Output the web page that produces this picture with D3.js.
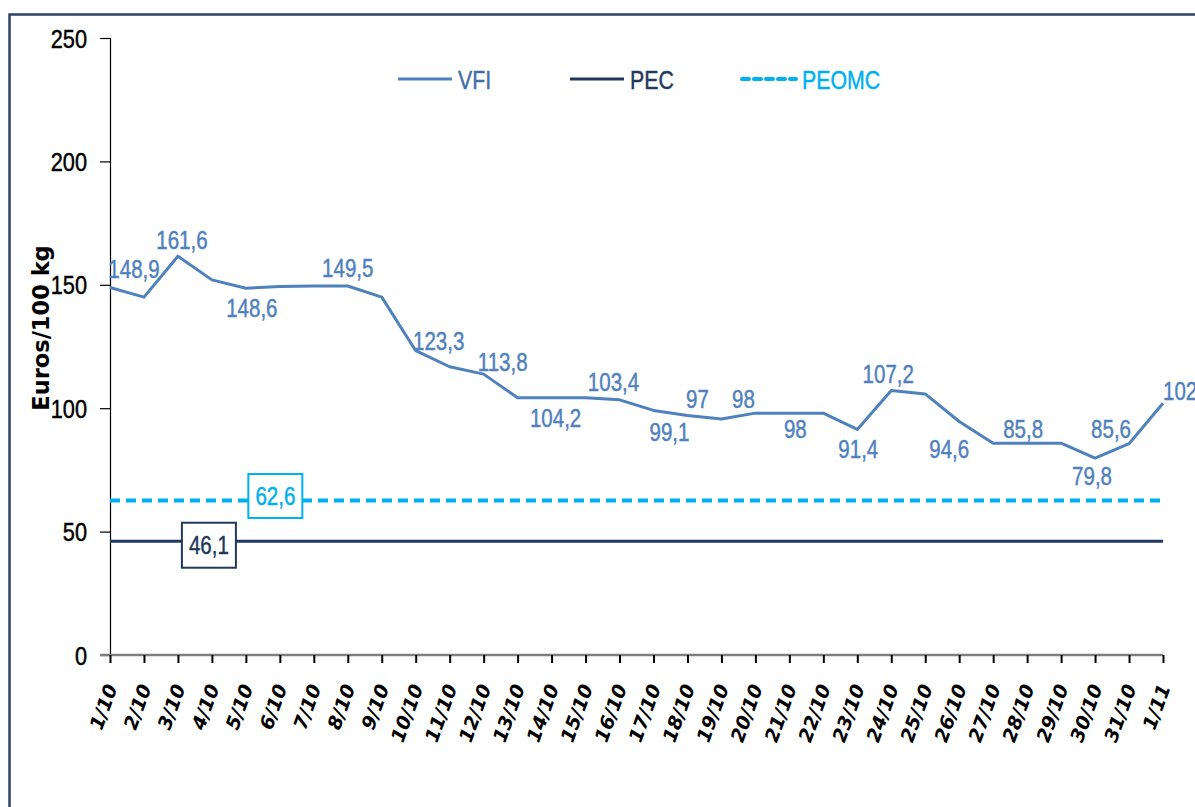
<!DOCTYPE html>
<html><head><meta charset="utf-8">
<script src="https://cdn.jsdelivr.net/npm/d3@7"></script>
<style>
html,body{margin:0;padding:0;background:#fff;}
svg{display:block;}
</style></head>
<body>
<svg id="c" width="1195" height="807"></svg>
<script>
const dates = ["1/10","2/10","3/10","4/10","5/10","6/10","7/10","8/10","9/10","10/10","11/10","12/10","13/10","14/10","15/10","16/10","17/10","18/10","19/10","20/10","21/10","22/10","23/10","24/10","25/10","26/10","27/10","28/10","29/10","30/10","31/10","1/11"];
const vfi = [148.9,145,161.6,152,148.6,149.3,149.5,149.5,145,123.3,116.8,113.8,104.2,104.2,104.2,103.4,99.1,97,95.6,98,98,98,91.4,107.2,105.8,94.6,85.8,85.8,85.8,79.8,85.6,102];
const pec = 46.1;
const peomc = 62.6;
const yTicks = [0,50,100,150,200,250];
const seriesNames = ["VFI","PEC","PEOMC"];
const labelledIdx = [0,2,4,7,9,11,13,15,16,17,19,20,22,23,25,27,29,30,31];
// label placement offsets (dx, dy) from point to label centre
const labelOffsets = [[24,-19],[4,-16],[6,20],[0,-18],[23,-10],[19,-12],[4,20],[-6,-18],[16,22],[10,-17],[-12,-14],[6,16],[1,20],[-3,-16],[-10,27],[-4,-14],[-3,18],[-18,-15],[0,-12]];

const C_VFI="#4f81bd", C_PEC="#1f3a5c", C_PEOMC="#00b0f0";
const fmt = v => String(v).replace(".",",");
const NARROW = 0.82;
const FONT = "Liberation Sans, Arial, sans-serif";

const svg = d3.select("#c");

function ntext(parent, x, y, txt, size, anchor, fill){
  return parent.append("text")
    .attr("transform",`translate(${x},${y}) scale(${NARROW},1)`)
    .attr("font-family",FONT).attr("font-size",size).attr("text-anchor",anchor)
    .attr("fill",fill).attr("stroke",fill).attr("stroke-width",0.45)
    .text(txt);
}

// outer frame
svg.append("rect").attr("x",9.5).attr("y",14.5).attr("width",1220).attr("height",820)
  .attr("fill","none").attr("stroke","#2b4466").attr("stroke-width",2.5);

const x = d3.scalePoint().domain(dates).range([110,1163]);
const y = d3.scaleLinear().domain([0,250]).range([655,38]);

// y axis
const ya = svg.append("g").attr("transform","translate(110,0)")
  .call(d3.axisLeft(y).tickValues(yTicks).tickSize(10).tickFormat(()=>""));
ya.select(".domain").attr("stroke","#000").attr("stroke-width",1.2);
ya.selectAll(".tick line").attr("stroke","#000").attr("stroke-width",1.2);
yTicks.forEach(t=>{
  ntext(svg, 87, y(t)+9.5, String(t), 26.5, "end", "#000");
});

// x axis
const xa = svg.append("g").attr("transform","translate(0,655)")
  .call(d3.axisBottom(x).tickSize(8).tickFormat(d=>d));
xa.select(".domain").attr("stroke","#7f7f7f").attr("stroke-width",2.5).attr("d","M100,0H1163");
xa.selectAll(".tick line").attr("stroke","#000").attr("stroke-width",2);
xa.selectAll(".tick text")
  .attr("font-family","DejaVu Sans").attr("font-weight","bold").attr("font-style","italic")
  .attr("font-size",19).attr("fill","#000")
  .attr("text-anchor","end").attr("y",0).attr("dy","0.35em")
  .attr("transform","translate(1,30) rotate(-70)");

// y title
svg.append("text").attr("transform","translate(49,328) rotate(-90)")
  .attr("text-anchor","middle").attr("font-family","DejaVu Sans").attr("font-weight","bold")
  .attr("font-size",22.5).attr("fill","#000").text("Euros/100 kg");

// horizontal reference lines
svg.append("line").attr("x1",110).attr("x2",1163).attr("y1",y(pec)).attr("y2",y(pec))
  .attr("stroke",C_PEC).attr("stroke-width",3);
svg.append("line").attr("x1",110).attr("x2",1163).attr("y1",y(peomc)).attr("y2",y(peomc))
  .attr("stroke",C_PEOMC).attr("stroke-width",4).attr("stroke-dasharray","10,6");

// VFI line
svg.append("path").datum(vfi)
  .attr("d",d3.line().x((d,i)=>x(dates[i])).y(d=>y(d)))
  .attr("fill","none").attr("stroke",C_VFI).attr("stroke-width",3).attr("stroke-linejoin","round");

// VFI labels
labelledIdx.forEach((i,k)=>{
  const [dx,dy]=labelOffsets[k];
  const last = i===dates.length-1;
  ntext(svg, x(dates[i])+dx, y(vfi[i])+dy+9, fmt(vfi[i]), 25, last?"start":"middle", C_VFI);
});

// boxed labels
function boxLabel(cx,cy,w,h,val,col){
  svg.append("rect").attr("x",cx-w/2).attr("y",cy-h/2).attr("width",w).attr("height",h)
    .attr("fill","#fff").attr("stroke",col).attr("stroke-width",2);
  ntext(svg, cx, cy+9, fmt(val), 25, "middle", col);
}
boxLabel(x(dates[5])-4.5,y(peomc)-4.5,54,44,peomc,C_PEOMC);
boxLabel(x(dates[3])-3,y(pec)+4,54,45,pec,C_PEC);

// legend
const legItems = [
  {name:seriesNames[0],col:C_VFI,tcol:"#3f6ea6",x:398,dash:null,w:3},
  {name:seriesNames[1],col:C_PEC,tcol:C_PEC,x:570,dash:null,w:3},
  {name:seriesNames[2],col:C_PEOMC,tcol:C_PEOMC,x:742,dash:"7,5",w:4}
];
legItems.forEach(it=>{
  const g=svg.append("g");
  g.append("line").attr("x1",it.x).attr("x2",it.x+54).attr("y1",79).attr("y2",79)
    .attr("stroke",it.col).attr("stroke-width",it.w).attr("stroke-dasharray",it.dash)
    .attr("stroke-linecap",it.dash?"round":"butt");
  ntext(g, it.x+60, 88.5, it.name, 26, "start", it.tcol);
});
</script>
</body></html>
